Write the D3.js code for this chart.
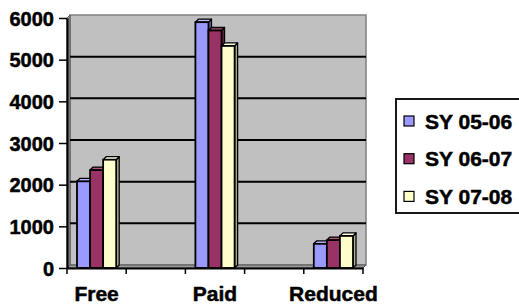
<!DOCTYPE html>
<html>
<head>
<meta charset="utf-8">
<script src="https://cdn.jsdelivr.net/npm/d3@7"></script>
<style>
  body { margin: 0; background: #fff; }
  svg text { font-family: "Liberation Sans", Arial, sans-serif; font-weight: bold; fill: #000; stroke: #000; stroke-width: 0.5px; }
</style>
</head>
<body>
<svg id="chart" width="519" height="305"></svg>
<script>
// chart data
var categories = ["Free", "", "Paid", "", "Reduced"];
var seriesNames = ["SY 05-06", "SY 06-07", "SY 07-08"];
var sy0506 = [2080, null, 5900, null, 580];
var sy0607 = [2350, null, 5700, null, 670];
var sy0708 = [2600, null, 5330, null, 770];
var yTicks = [0, 1000, 2000, 3000, 4000, 5000, 6000];

var seriesValues = [sy0506, sy0607, sy0708];
var fills = ["#9999FF", "#993366", "#FFFFCC"];
var sides = ["#6B6BB3", "#6B2447", "#B3B38F"];
var tops  = ["#B8B8FF", "#B3557F", "#FFFFE6"];

var svg = d3.select("#chart");
var plotL = 67, plotR = 363, plotB = 268, plotT = 18;
var d = 3; // 3d depth

var x = d3.scaleBand().domain(d3.range(categories.length)).range([plotL, plotR]);
var xs = d3.scaleBand().domain(d3.range(seriesNames.length)).range([10, x.bandwidth() - 10]);
var y = d3.scaleLinear().domain([0, 6000]).range([plotB, plotT]);

// back wall
svg.append("rect")
    .attr("x", plotL + d).attr("y", plotT - d)
    .attr("width", plotR - plotL).attr("height", plotB - plotT)
    .attr("fill", "#C0C0C0").attr("stroke", "#808080").attr("stroke-width", 1.5);
// side wall + floor
svg.append("polygon")
    .attr("points", [[plotL, plotT], [plotL + d, plotT - d], [plotL + d, plotB - d], [plotL, plotB]].join(" "))
    .attr("fill", "#9a9a9a").attr("stroke", "#555").attr("stroke-width", 1);
svg.append("polygon")
    .attr("points", [[plotL, plotB], [plotL + d, plotB - d], [plotR + d, plotB - d], [plotR, plotB]].join(" "))
    .attr("fill", "#9a9a9a").attr("stroke", "#555").attr("stroke-width", 1);

// gridlines on back wall
svg.append("g").selectAll("line").data(yTicks.filter(function (t) { return t > 0 && t < 6000; }))
    .enter().append("line")
    .attr("x1", plotL + d).attr("x2", plotR + d)
    .attr("y1", function (t) { return y(t) - d; }).attr("y2", function (t) { return y(t) - d; })
    .attr("stroke", "#000").attr("stroke-width", 2);

// bars
var bars = [];
seriesValues.forEach(function (vals, s) {
    vals.forEach(function (v, i) {
        if (v != null) bars.push({ s: s, i: i, v: v });
    });
});
var g = svg.append("g").selectAll("g").data(bars).enter().append("g");
function bx(b) { return x(b.i) + xs(b.s); }
var w = xs.bandwidth();
g.append("polygon") // side
    .attr("points", function (b) {
        var x0 = bx(b) + w, yt = y(b.v);
        return [[x0, yt], [x0 + d, yt - d], [x0 + d, plotB - d], [x0, plotB]].join(" ");
    })
    .attr("fill", function (b) { return sides[b.s]; })
    .attr("stroke", "#000").attr("stroke-width", 1.3).attr("stroke-linejoin", "round");
g.append("polygon") // top
    .attr("points", function (b) {
        var x0 = bx(b), yt = y(b.v);
        return [[x0, yt], [x0 + d, yt - d], [x0 + w + d, yt - d], [x0 + w, yt]].join(" ");
    })
    .attr("fill", function (b) { return tops[b.s]; })
    .attr("stroke", "#000").attr("stroke-width", 1.3).attr("stroke-linejoin", "round");
g.append("rect") // front
    .attr("x", bx).attr("y", function (b) { return y(b.v); })
    .attr("width", w).attr("height", function (b) { return plotB - y(b.v); })
    .attr("fill", function (b) { return fills[b.s]; })
    .attr("stroke", "#000").attr("stroke-width", 1.8);

// y axis
var yAxis = svg.append("g").attr("transform", "translate(" + plotL + ",0)")
    .call(d3.axisLeft(y).tickValues(yTicks).tickFormat(d3.format("d")).tickSize(8).tickPadding(5).tickSizeOuter(0));
yAxis.select(".domain").attr("stroke", "#000").attr("stroke-width", 2.2);
yAxis.selectAll(".tick line").attr("stroke", "#000").attr("stroke-width", 1.5);
yAxis.selectAll("text").attr("font-size", 20).attr("dy", "0.36em").style("font-family", null);

// x axis
var xAxis = svg.append("g").attr("transform", "translate(0," + plotB + ")")
    .call(d3.axisBottom(x).tickSize(0).tickSizeOuter(0).tickFormat(function (i) { return categories[i]; }));
xAxis.select(".domain").attr("stroke", "#000").attr("stroke-width", 2.2);
xAxis.selectAll("text").attr("font-size", 21).attr("y", 33).attr("dy", 0).style("font-family", null);
xAxis.selectAll(".bound").data(d3.range(categories.length + 1)).enter().append("line")
    .attr("class", "bound")
    .attr("x1", function (k) { return plotL + k * x.bandwidth(); })
    .attr("x2", function (k) { return plotL + k * x.bandwidth(); })
    .attr("y1", 0).attr("y2", 6)
    .attr("stroke", "#000").attr("stroke-width", 1.5);

// legend
var lg = svg.append("g");
lg.append("rect").attr("x", 396).attr("y", 99).attr("width", 140).attr("height", 114)
    .attr("fill", "#fff").attr("stroke", "#000").attr("stroke-width", 1.8);
var item = lg.selectAll(".item").data(seriesNames).enter().append("g")
    .attr("transform", function (n, k) { return "translate(404," + (121 + k * 37.7) + ")"; });
item.append("rect").attr("x", 0).attr("y", -5).attr("width", 10).attr("height", 10)
    .attr("fill", function (n, k) { return fills[k]; })
    .attr("stroke", "#000").attr("stroke-width", 1.2);
item.append("text").attr("x", 21).attr("y", 7.5).attr("font-size", 21).text(function (n) { return n; });
</script>
</body>
</html>
